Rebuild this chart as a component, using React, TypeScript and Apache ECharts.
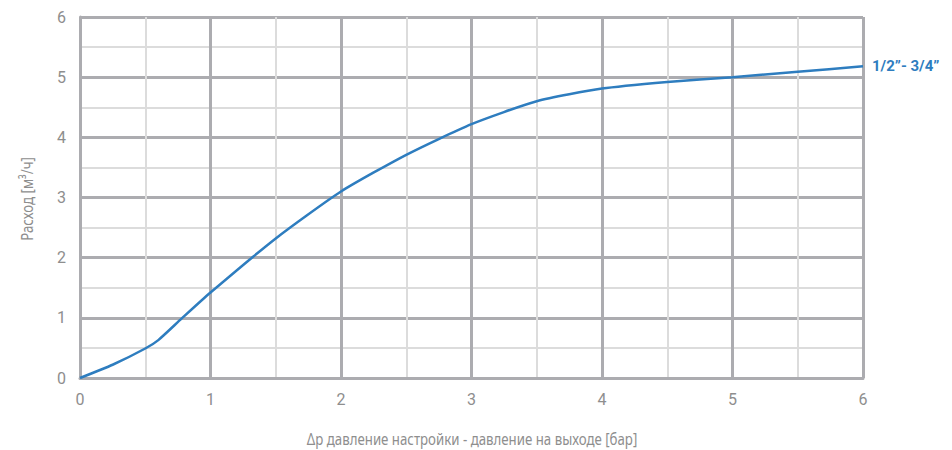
import React, { useEffect, useRef } from "react";
import * as echarts from "echarts";

const pressureDrop = [0, 0.25, 0.5, 0.6, 0.78, 1, 1.5, 2, 2.5, 3, 3.5, 4, 4.5, 5, 5.5, 6];
const flowRate = [0, 0.22, 0.49, 0.63, 0.99, 1.42, 2.32, 3.1, 3.71, 4.22, 4.6, 4.81, 4.92, 5.0, 5.09, 5.18];
const seriesName = "1/2”- 3/4”";
const xTitle = "Δp давление настройки - давление на выходе [бар]";
const yTitle = "Расход [м³/ч]";

const major = "#acacb0";
const minor = "#dcdcdc";
const labelColor = "#8e8e8e";
const lineColor = "#2e7dbf";
const titleFont = "'Noto Sans', sans-serif";

export default function App() {
  const ref = useRef<HTMLDivElement>(null);
  useEffect(() => {
    if (!ref.current) return;
    const chart = echarts.init(ref.current, null, { renderer: "svg" });
    const axisCommon = {
      type: "value" as const,
      min: 0,
      max: 6,
      interval: 1,
      axisLine: { show: true, lineStyle: { color: major, width: 3 } },
      axisTick: { show: false },
      splitLine: { show: true, lineStyle: { color: major, width: 3 } },
      minorTick: { show: false, splitNumber: 2 },
      minorSplitLine: { show: true, lineStyle: { color: minor, width: 2 } },
      axisLabel: { color: labelColor, fontSize: 16, fontFamily: "Roboto, 'Noto Sans', sans-serif" },
    };
    chart.setOption({
      animation: false,
      backgroundColor: "#ffffff",
      grid: { left: 80, right: 89, top: 17, bottom: 72, containLabel: false },
      xAxis: {
        ...axisCommon,
        axisLabel: { ...axisCommon.axisLabel, margin: 13 },
      },
      yAxis: {
        ...axisCommon,
        axisLabel: { ...axisCommon.axisLabel, margin: 14 },
      },
      graphic: [
        {
          type: "text",
          x: 472,
          y: 438,
          scaleX: 0.78,
          style: {
            text: xTitle,
            fill: labelColor,
            fontSize: 17,
            fontFamily: titleFont,
            align: "center",
            verticalAlign: "middle",
          },
        },
        {
          type: "text",
          x: 26,
          y: 199,
          rotation: Math.PI / 2,
          scaleX: 0.78,
          style: {
            text: yTitle,
            fill: labelColor,
            fontSize: 17,
            fontFamily: titleFont,
            align: "center",
            verticalAlign: "middle",
          },
        },
      ],
      series: [
        {
          type: "line",
          name: seriesName,
          data: pressureDrop.map((x, i) => [x, flowRate[i]]),
          smooth: 0.2,
          showSymbol: false,
          symbol: "none",
          lineStyle: { color: lineColor, width: 2.5 },
          endLabel: {
            show: true,
            formatter: seriesName,
            color: lineColor,
            fontWeight: "bold",
            fontSize: 15,
            fontFamily: "Roboto, 'Noto Sans', sans-serif",
            distance: 9,
          },
        },
      ],
    });
    return () => chart.dispose();
  }, []);
  return (
    <div
      ref={ref}
      style={{ position: "fixed", left: 0, top: 0, width: 952, height: 450 }}
    />
  );
}
